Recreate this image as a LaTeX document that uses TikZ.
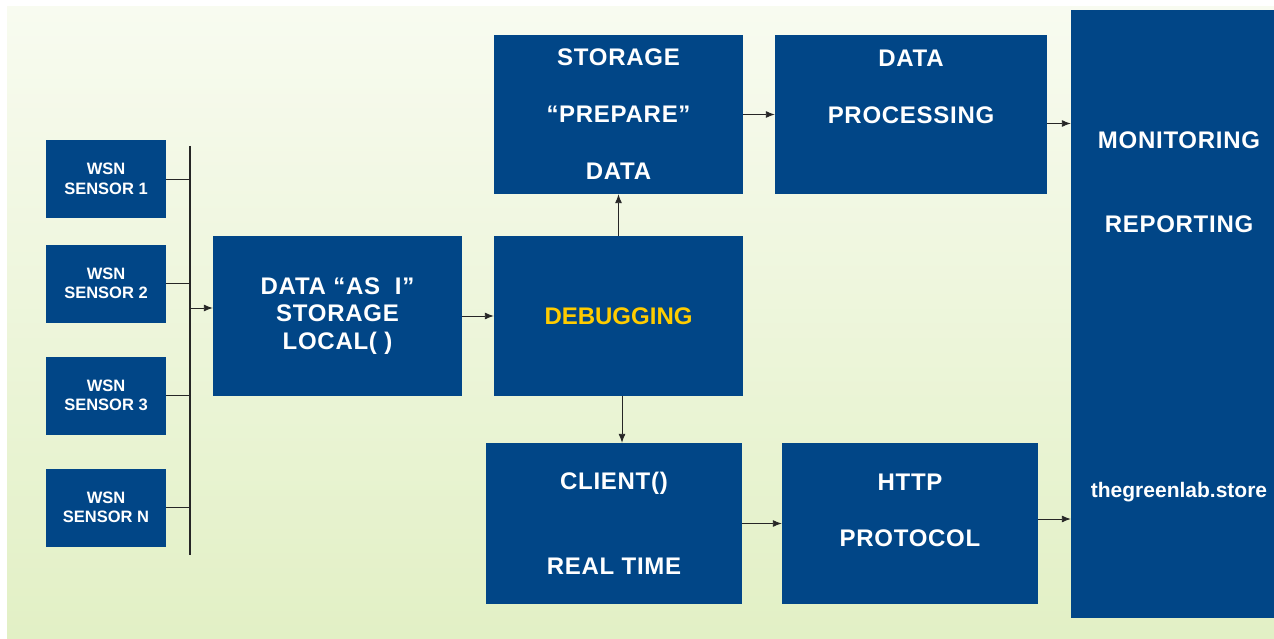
\documentclass[tikz,border=0pt]{standalone}
\usepackage{fontspec}
\setmainfont{Liberation Sans}
\newfontfamily\widefont{Liberation Sans}[LetterSpace=3]
\usepackage{xcolor}
\usepackage{tikz}
\usetikzlibrary{arrows.meta,positioning,calc}
\definecolor{wsnblue}{RGB}{1,70,135}
\definecolor{bgtop}{RGB}{248,251,240}
\definecolor{bgbot}{RGB}{226,240,197}
\definecolor{debugyellow}{RGB}{255,204,0}

\begin{document}
\begin{tikzpicture}[x=1pt,y=-1pt,>={Latex[length=9pt,width=7pt]}]
	\tikzstyle{blk}=[fill=wsnblue, text=white, inner sep=0pt, align=center, font=\widefont\bfseries\fontsize{24}{28}\selectfont]
	\tikzstyle{sensor}=[blk, minimum width=120pt, minimum height=78pt, font=\bfseries\fontsize{16.5}{19.5}\selectfont]
	\tikzstyle{txt}=[text=white, inner sep=0pt, align=center, font=\widefont\bfseries\fontsize{24}{28}\selectfont]
	\tikzstyle{link}=[color=black!85, line width=0.9pt]
	\useasboundingbox (0,0) rectangle (1274,639);
	\shade[top color=bgtop, bottom color=bgbot] (7,7) rectangle (1274,639);
	
	% sensors and bus
	\node[sensor](S1) at (106,179){WSN\\SENSOR 1};
	\node[sensor](S2) at (106,283.5){WSN\\SENSOR 2};
	\node[sensor](S3) at (106,395.5){WSN\\SENSOR 3};
	\node[sensor](SN) at (106,507.5){WSN\\SENSOR N};
	\coordinate (bustop) at (190,146);
	\coordinate (busbot) at (190,555);
	\coordinate (busout) at (190,308);
	
	% main blocks
	\node[blk, minimum width=249pt, minimum height=160pt, font=\widefont\bfseries\fontsize{24}{27.5}\selectfont](local) at (337.5,316){DATA “AS\ \ I”\\STORAGE\\LOCAL( )};
	\node[blk, minimum width=249pt, minimum height=160pt, text=debugyellow, font=\bfseries\fontsize{24}{28}\selectfont](debug) at (618.5,316){DEBUGGING};
	\node[blk, minimum width=249pt, minimum height=159pt](store) at (618.5,114.5){STORAGE\\[29pt]“PREPARE”\\[29pt]DATA};
	\node[blk, minimum width=272pt, minimum height=159pt](proc) at (911,114.5){};
	\node[txt](proctxt) at (911,86.5){DATA\\[29pt]PROCESSING};
	\node[blk, minimum width=256pt, minimum height=161pt](client) at (614,523.5){CLIENT()\\[57pt]REAL TIME};
	\node[blk, minimum width=256pt, minimum height=161pt](http) at (910,523.5){};
	\node[txt](httptxt) at (910,510){HTTP\\[28pt]PROTOCOL};
	\node[blk, minimum width=203pt, minimum height=608pt](mon) at (1172.5,314){};
	\node[txt](montxt) at (1179,182){MONITORING\\[56pt]REPORTING};
	\node[txt, font=\bfseries\fontsize{21}{25}\selectfont](site) at (1179,492){thegreenlab.store};
	
	\draw[link, line width=1.3pt] (bustop) -- (busbot);
	\draw[link] (S1.east) -- (S1.east -| bustop);
	\draw[link] (S2.east) -- (S2.east -| bustop);
	\draw[link] (S3.east) -- (S3.east -| bustop);
	\draw[link] (SN.east) -- (SN.east -| bustop);
	\path[->,link] (busout) edge (busout -| local.west);
	\path[->,link] (local.east) edge (debug.west);
	\path[->,link] (debug.north) edge (store.south);
	\path[->,link] (store.east) edge (proc.west);
	\path[->,link] ([yshift=-9pt]proc.east) edge ([yshift=-9pt]proc.east -| mon.west);
	\path[->,link] ([xshift=3.5pt]debug.south) edge ([xshift=3.5pt]debug.south |- client.north);
	\path[->,link] (client.east) edge (http.west);
	\path[->,link] ([yshift=4.5pt]http.east) edge ([yshift=4.5pt]http.east -| mon.west);
\end{tikzpicture}
\end{document}
